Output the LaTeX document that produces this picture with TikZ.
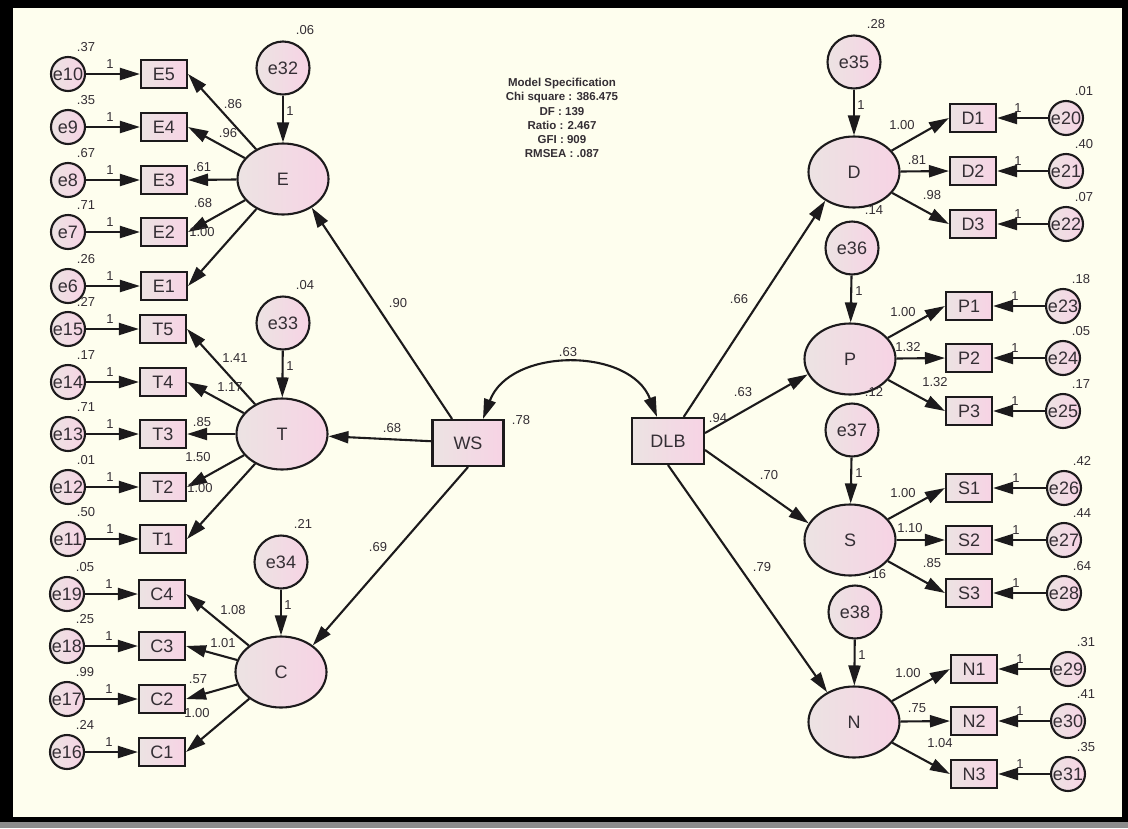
\documentclass[tikz,border=0pt]{standalone}
\usepackage{fontspec}
\setmainfont{Liberation Sans}
\usetikzlibrary{arrows.meta,calc,shapes.geometric}

\definecolor{paper}{RGB}{254,254,238}
\definecolor{ink}{RGB}{28,26,28}
\definecolor{txt}{RGB}{52,46,52}
\definecolor{pinkL}{RGB}{236,227,227}
\definecolor{pinkR}{RGB}{247,211,228}
\definecolor{shadowgray}{RGB}{140,140,140}

\begin{document}
\begin{tikzpicture}[x=1pt,y=-1pt,
  every node/.style={font=\fontsize{18}{18}\selectfont, text=txt},
  pinkfill/.style={left color=pinkL, right color=pinkR, draw=ink, line width=2.1pt},
  obs/.style={pinkfill, rectangle, minimum width=46pt, minimum height=28pt, inner sep=0pt},
  bigobs/.style={pinkfill, rectangle, minimum width=71pt, minimum height=46pt, inner sep=0pt},
  err/.style={pinkfill, circle, minimum size=34pt, inner sep=0pt},
  dist/.style={pinkfill, circle, minimum size=53pt, inner sep=0pt},
  lat/.style={pinkfill, ellipse, minimum width=91pt, minimum height=71pt, inner sep=0pt},
  num/.style={font=\fontsize{13}{13}\selectfont, inner sep=0pt, text=txt},
  spec/.style={font=\bfseries\fontsize{11.5}{14.2}\selectfont, align=center, inner sep=0pt, text=txt},
  arr/.style={draw=ink, line width=2.1pt, -{Triangle[length=20pt,width=12pt]}},
  arrboth/.style={draw=ink, line width=2.1pt, {Triangle[length=20pt,width=12pt]}-{Triangle[length=20pt,width=12pt]}}
]
% frame and paper
\fill[black] (0,0) rectangle (1128,822);
\fill[shadowgray] (0,822) rectangle (1128,828);
\fill[paper] (13,8) rectangle (1122,817);
\useasboundingbox (0,0) rectangle (1128,828);

% ---------------- left block: E ----------------
\node[err] (e10) at (68,74) {e10};  \node[obs] (E5) at (164,74) {E5};
\node[err] (e9)  at (68,127) {e9};  \node[obs] (E4) at (164,127) {E4};
\node[err] (e8)  at (68,180) {e8};  \node[obs] (E3) at (164,180) {E3};
\node[err] (e7)  at (68,232) {e7};  \node[obs] (E2) at (164,232) {E2};
\node[err] (e6)  at (68,286) {e6};  \node[obs] (E1) at (164,286) {E1};
\node[dist] (e32) at (283,68) {e32};
\node[lat] (E) at (283,179) {E};

% ---------------- left block: T ----------------
\node[err] (e15) at (68,329) {e15}; \node[obs] (T5) at (163,329) {T5};
\node[err] (e14) at (68,382) {e14}; \node[obs] (T4) at (163,382) {T4};
\node[err] (e13) at (68,434) {e13}; \node[obs] (T3) at (163,434) {T3};
\node[err] (e12) at (68,487) {e12}; \node[obs] (T2) at (163,487) {T2};
\node[err] (e11) at (68,539) {e11}; \node[obs] (T1) at (163,539) {T1};
\node[dist] (e33) at (283,323) {e33};
\node[lat] (T) at (282,434) {T};

% ---------------- left block: C ----------------
\node[err] (e19) at (67,594) {e19}; \node[obs] (C4) at (162,594) {C4};
\node[err] (e18) at (67,646) {e18}; \node[obs] (C3) at (162,646) {C3};
\node[err] (e17) at (67,699) {e17}; \node[obs] (C2) at (162,699) {C2};
\node[err] (e16) at (67,752) {e16}; \node[obs] (C1) at (162,752) {C1};
\node[dist] (e34) at (281,562) {e34};
\node[lat] (C) at (281,672) {C};

% ---------------- centre ----------------
\node[bigobs] (WS) at (468,443) {WS};
\node[bigobs, minimum width=72pt] (DLB) at (668,441) {DLB};
\node[spec] (fit) at (562,118) {Model Specification\\Chi square : 386.475\\DF : 139\\Ratio : 2.467\\GFI : 909\\RMSEA : .087};

% ---------------- right block ----------------
\node[dist] (e35) at (854,62) {e35};
\node[lat] (D) at (854,172) {D};
\node[obs] (D1) at (973,118) {D1}; \node[err] (e20) at (1066,118) {e20};
\node[obs] (D2) at (973,171) {D2}; \node[err] (e21) at (1066,171) {e21};
\node[obs] (D3) at (973,224) {D3}; \node[err] (e22) at (1066,224) {e22};

\node[dist] (e36) at (852,248) {e36};
\node[lat] (P) at (850,359) {P};
\node[obs] (P1) at (969,306) {P1}; \node[err] (e23) at (1063,306) {e23};
\node[obs] (P2) at (969,358) {P2}; \node[err] (e24) at (1063,358) {e24};
\node[obs] (P3) at (969,411) {P3}; \node[err] (e25) at (1063,411) {e25};

\node[dist] (e37) at (852,430) {e37};
\node[lat] (S) at (850,540) {S};
\node[obs] (S1) at (969,488) {S1}; \node[err] (e26) at (1064,488) {e26};
\node[obs] (S2) at (969,540) {S2}; \node[err] (e27) at (1064,540) {e27};
\node[obs] (S3) at (969,593) {S3}; \node[err] (e28) at (1064,593) {e28};

\node[dist] (e38) at (855,612) {e38};
\node[lat] (N) at (854,722) {N};
\node[obs] (N1) at (974,669) {N1}; \node[err] (e29) at (1068,669) {e29};
\node[obs] (N2) at (974,721) {N2}; \node[err] (e30) at (1068,721) {e30};
\node[obs] (N3) at (974,774) {N3}; \node[err] (e31) at (1068,774) {e31};

% ---------------- measurement errors ----------------
\foreach \e/\b in {e10/E5,e9/E4,e8/E3,e7/E2,e6/E1,e15/T5,e14/T4,e13/T3,e12/T2,e11/T1,e19/C4,e18/C3,e17/C2,e16/C1}{
  \draw[arr] (\e) -- (\b);
  \node[num] (one-\e) at ($(\e)+(42,-10)$) {1};
}
\foreach \e/\b in {e20/D1,e21/D2,e22/D3,e23/P1,e24/P2,e25/P3,e26/S1,e27/S2,e28/S3,e29/N1,e30/N2,e31/N3}{
  \draw[arr] (\e) -- (\b);
  \node[num] (one-\e) at ($(\e)+(-48,-10)$) {1};
}
\foreach \e/\v in {e10/.37,e9/.35,e8/.67,e7/.71,e6/.26,e15/.27,e14/.17,e13/.71,e12/.01,e11/.50,e19/.05,e18/.25,e17/.99,e16/.24,e20/.01,e21/.40,e22/.07,e23/.18,e24/.05,e25/.17,e26/.42,e27/.44,e28/.64,e29/.31,e30/.41,e31/.35}{
  \node[num] (var-\e) at ($(\e)+(18,-27)$) {\v};
}

% ---------------- disturbances ----------------
\foreach \d/\l/\v in {e32/E/.06,e33/T/.04,e34/C/.21,e35/D/.28,e36/P/.14,e37/S/.12,e38/N/.16}{
  \draw[arr] (\d) -- (\l);
  \node[num] (one-\d) at ($(\d)+(7,43)$) {1};
  \node[num] (var-\d) at ($(\d)+(22,-38)$) {\v};
}

% ---------------- loadings ----------------
\foreach \l/\b in {E/E5,E/E4,E/E3,E/E2,E/E1,T/T5,T/T4,T/T3,T/T2,T/T1,C/C4,C/C3,C/C2,C/C1}{
  \draw[arr] (\l) -- (\b.east);
}
\foreach \l/\b in {D/D1,D/D2,D/D3,P/P1,P/P2,P/P3,S/S1,S/S2,S/S3,N/N1,N/N2,N/N3}{
  \draw[arr] (\l) -- (\b.west);
}
\foreach \t/\px/\py [count=\i] in {
  .86/233/104, .96/228/133, .61/202/167, .68/203/203, 1.00/202/232,
  1.41/235/358, 1.17/230/387, .85/202/422, 1.50/198/457, 1.00/200/488,
  1.08/233/610, 1.01/223/643, .57/198/679, 1.00/197/713,
  1.00/902/125, .81/917/160, .98/932/195,
  1.00/903/312, 1.32/908/347, 1.32/935/382,
  1.00/903/493, 1.10/910/528, .85/932/563,
  1.00/908/673, .75/917/708, 1.04/940/743}{
  \node[num] (load\i) at (\px,\py) {\t};
}

% ---------------- structural paths ----------------
\draw[arr] (WS) -- (E.-45);
\draw[arr] (WS) -- (T);
\draw[arr] (WS.south) -- (C.40);
\draw[arr] (DLB) -- (D.-135);
\draw[arr] ([yshift=8pt]DLB.east) -- (P.-160);
\draw[arr] ([yshift=-9pt]DLB.east) -- (S.158);
\draw[arr] (DLB.south) -- (N.132);
\draw[arrboth] ([xshift=-11pt]DLB.north) .. controls (630,347) and (510,347) .. ([xshift=15pt]WS.north);

\node[num] (pWE) at (398,303) {.90};
\node[num] (pWT) at (392,428) {.68};
\node[num] (pWC) at (378,547) {.69};
\node[num] (cov) at (568,352) {.63};
\node[num] (rWS) at (521,420) {.78};
\node[num] (rDLB) at (718,418) {.94};
\node[num] (pDD) at (739,299) {.66};
\node[num] (pDP) at (743,392) {.63};
\node[num] (pDS) at (769,475) {.70};
\node[num] (pDN) at (762,567) {.79};
\end{tikzpicture}
\end{document}
